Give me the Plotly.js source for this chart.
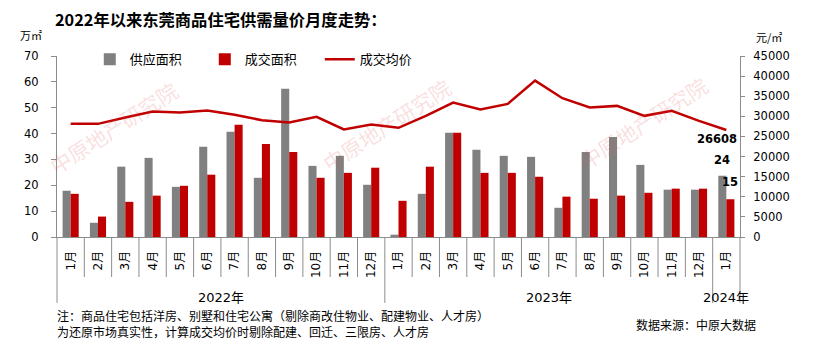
<!DOCTYPE html>
<html><head><meta charset="utf-8">
<script src="https://cdn.plot.ly/plotly-3.0.1.min.js"></script>
<style>html,body{margin:0;padding:0;background:#fff}</style>
</head><body><div id="chart" style="width:816px;height:339px"></div>
<script>
const categories = ['2022-01','2022-02','2022-03','2022-04','2022-05','2022-06','2022-07','2022-08','2022-09','2022-10','2022-11','2022-12',
  '2023-01','2023-02','2023-03','2023-04','2023-05','2023-06','2023-07','2023-08','2023-09','2023-10','2023-11','2023-12','2024-01'];
const monthLabels = ['1月','2月','3月','4月','5月','6月','7月','8月','9月','10月','11月','12月',
  '1月','2月','3月','4月','5月','6月','7月','8月','9月','10月','11月','12月','1月'];
const yearLabels = ['2022年','2023年','2024年'];
const supplyArea = [17.9,5.5,27.2,30.6,19.4,34.9,40.7,22.9,57.3,27.5,31.4,20.2,0.9,16.7,40.3,33.7,31.4,31.0,11.3,32.9,38.7,27.9,18.3,18.3,23.7];
const dealArea = [16.7,7.9,13.6,16.0,19.8,24.1,43.4,36.0,32.9,22.9,24.8,26.8,14.0,27.2,40.3,24.8,24.8,23.3,15.6,14.8,16.0,17.1,18.7,18.7,14.6];
const dealPrice = [28130,28130,29700,31190,30950,31440,30370,29040,28460,29870,26730,27970,27140,30120,33430,31690,33100,38890,34500,32190,32600,30120,31360,28880,26608];

const GRAY = '#808080', RED = '#C00000', AX = '#8c8c8c';
const FONT = 'DejaVu Sans, Noto Sans CJK SC, sans-serif';
const CJK = 'Noto Sans CJK SC, sans-serif';

const traces = [
  {type:'bar', name:'供应面积', x:categories, y:supplyArea, marker:{color:GRAY}, yaxis:'y'},
  {type:'bar', name:'成交面积', x:categories, y:dealArea, marker:{color:RED}, yaxis:'y'},
  {type:'scatter', mode:'lines', name:'成交均价', x:categories, y:dealPrice, line:{color:RED, width:2.5}, yaxis:'y2'}
];

// group boundaries by year
const groups = [];
categories.forEach((c,i)=>{
  const yr = c.slice(0,4);
  if(!groups.length || groups[groups.length-1].yr!==yr) groups.push({yr, start:i, end:i});
  else groups[groups.length-1].end = i;
});

const shapes = [];
const SEP = -0.221, YSEP = -0.364;
for(let i=1;i<categories.length;i++){
  const isYear = categories[i].slice(0,4)!==categories[i-1].slice(0,4);
  shapes.push({type:'line', xref:'x', yref:'paper', x0:i-0.5, x1:i-0.5, y0:0, y1:isYear?YSEP:SEP, line:{color:AX,width:1}});
}
shapes.push({type:'line', xref:'paper', yref:'paper', x0:0, x1:0, y0:0, y1:YSEP, line:{color:AX,width:1}});
shapes.push({type:'line', xref:'paper', yref:'paper', x0:1, x1:1, y0:0, y1:YSEP, line:{color:AX,width:1}});

const last = categories.length-1;
function ann(o){ return Object.assign({showarrow:false, xanchor:'center', yanchor:'middle'}, o); }
const annotations = [
  ann({text:String(dealPrice[last]), x:categories[last], y:dealPrice[last], xref:'x', yref:'y2', xshift:-9, yshift:-9, font:{family:FONT, size:11.5, color:'#000', weight:'bold'}}),
  ann({text:String(Math.round(supplyArea[last])), x:categories[last], y:supplyArea[last], xref:'x', yref:'y', xshift:-4, yshift:16, font:{family:FONT, size:11.5, color:'#000', weight:'bold'}}),
  ann({text:String(Math.round(dealArea[last])), x:categories[last], y:dealArea[last], xref:'x', yref:'y', xshift:4, yshift:17, font:{family:FONT, size:11.5, color:'#000', weight:'bold'}}),
  ann({text:'万㎡', xref:'paper', yref:'paper', x:-0.038, y:1.116, font:{family:CJK, size:11, color:'#000'}}),
  ann({text:'元/㎡', xref:'paper', yref:'paper', x:1.042, y:1.105, font:{family:CJK, size:11, color:'#000'}}),
  ann({text:'注：商品住宅包括洋房、别墅和住宅公寓（剔除商改住物业、配建物业、人才房）<br>为还原市场真实性，计算成交均价时剔除配建、回迁、三限房、人才房', xref:'paper', yref:'paper', x:-0.003, y:-0.48, xanchor:'left', align:'left', font:{family:CJK, size:12, color:'#000'}}),
  ann({text:'数据来源：中原大数据', xref:'paper', yref:'paper', x:1.026, y:-0.486, xanchor:'right', font:{family:CJK, size:12, color:'#000'}})
];
groups.forEach((g,k)=>{
  annotations.push(ann({text:yearLabels[k], xref:'x', yref:'paper', x:(g.start+g.end)/2, y:-0.335, font:{family:FONT, size:13, color:'#000'}}));
});
[[0.082,0.603],[0.482,0.619],[0.858,0.63]].forEach(p=>{
  annotations.push(ann({text:'中原地产研究院', xref:'paper', yref:'paper', x:p[0], y:p[1], textangle:-33, font:{family:CJK, size:21, color:'rgba(225,90,90,0.2)'}}));
});

const layout = {
  width:816, height:339,
  margin:{l:57, r:76, t:56, b:102},
  paper_bgcolor:'#fff', plot_bgcolor:'#fff',
  font:{family:FONT, size:12, color:'#000'},
  title:{text:'2022年以来东莞商品住宅供需量价月度走势：', x:55/816, xanchor:'left', xref:'container', y:1-20/339, yanchor:'middle', yref:'container', font:{family:CJK, size:16.3, weight:'bold', color:'#000'}},
  barmode:'group', bargap:0.41, bargroupgap:0,
  showlegend:true,
  legend:{orientation:'h', x:0.048, xanchor:'left', y:1.064, yanchor:'top', font:{family:CJK, size:13}, entrywidth:70, entrywidthmode:'pixels', bgcolor:'rgba(0,0,0,0)', traceorder:'normal'},
  xaxis:{type:'category', tickvals:categories, ticktext:monthLabels, tickangle:-90, showline:true, linecolor:AX, ticks:'', showgrid:false, zeroline:false, tickfont:{family:FONT, size:12}, ticklabelstandoff:8, range:[-0.5, categories.length-0.5]},
  yaxis:{range:[0,70], dtick:10, showline:true, linecolor:AX, ticks:'outside', ticklen:5, tickcolor:AX, showgrid:false, zeroline:false, tickfont:{family:FONT, size:11.5}, ticklabelstandoff:10},
  yaxis2:{range:[0,45000], dtick:5000, overlaying:'y', side:'right', showline:true, linecolor:AX, ticks:'outside', ticklen:4, tickcolor:AX, showgrid:false, zeroline:false, exponentformat:'none', separatethousands:false, tickformat:'d', tickfont:{family:FONT, size:11.5}, ticklabelstandoff:6},
  shapes, annotations
};
Plotly.newPlot('chart', traces, layout, {staticPlot:true, displayModeBar:false});
</script></body></html>
